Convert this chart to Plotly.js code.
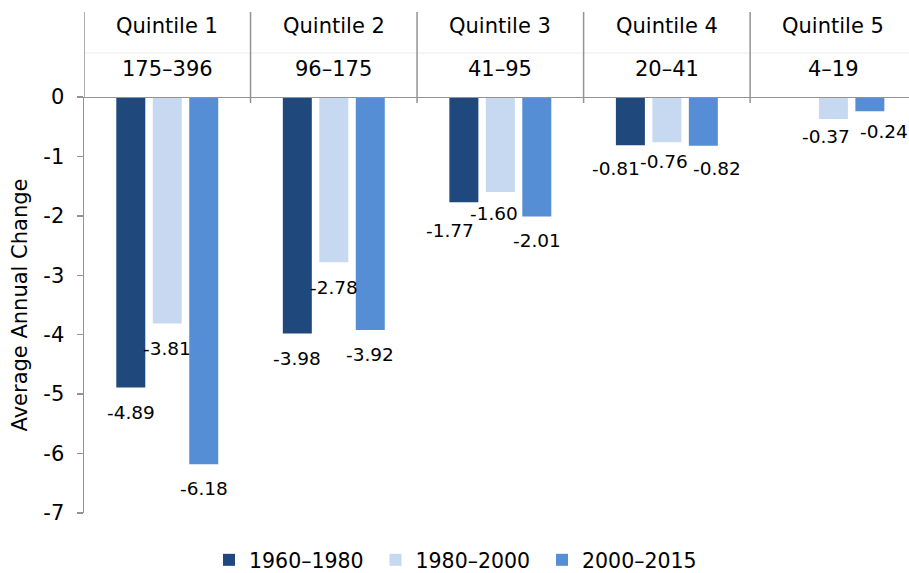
<!DOCTYPE html>
<html>
<head>
<meta charset="utf-8">
<script src="https://cdn.plot.ly/plotly-3.0.1.min.js"></script>
<style>html,body{margin:0;padding:0;background:#fff;}#chart{width:909px;height:573px;}</style>
</head>
<body>
<div id="chart"></div>
<script>
// ---- data ----
const categories = ["Quintile 1", "Quintile 2", "Quintile 3", "Quintile 4", "Quintile 5"];
const ranges = ["175–396", "96–175", "41–95", "20–41", "4–19"];
const seriesNames = ["1960–1980", "1980–2000", "2000–2015"];
const v1960_1980 = [-4.89, -3.98, -1.77, -0.81, null];
const v1980_2000 = [-3.81, -2.78, -1.60, -0.76, -0.37];
const v2000_2015 = [-6.18, -3.92, -2.01, -0.82, -0.24];
const yTicks = [0, -1, -2, -3, -4, -5, -6, -7];

// ---- styling ----
const colors = ["#1f497d", "#c6d9f1", "#558ed5"];
const FONT = "DejaVu Sans, Verdana, sans-serif";
const FS = 21, FS_LABEL = 18.5, FS_LEGEND = 20.5;
const W = 909, H = 573, ML = 84, MR = 0, MT = 97, MB = 60;
const xMin = -0.5, xMax = 4.454;
const bargap = 0.343, bargroupgap = 0.205;
// label nudges in px [dx, dy below bar end] per series per category
const labelNudge = [
  [[0, 25], [0, 25], [-14, 28], [-14, 23], [0, 0]],
  [[0, 25], [0, 25], [-6, 21], [-2.5, 19.5], [-7.5, 17.7]],
  [[0, 24], [0, 25], [0, 24], [14, 22.6], [14, 20.4]]
];

const seriesValues = [v1960_1980, v1980_2000, v2000_2015];
const plotW = W - ML - MR, plotH = H - MT - MB;
const pxPerCat = plotW / (xMax - xMin);
const slotPx = (1 - bargap) / seriesValues.length * pxPerCat;
const paperY = py => (H - MB - py) / plotH;

const traces = seriesValues.map((vals, s) => ({
  type: "bar",
  name: seriesNames[s],
  x: categories,
  y: vals,
  marker: {color: colors[s], line: {width: 0}},
  hoverinfo: "none"
}));

const annotations = [];
seriesValues.forEach((vals, s) => {
  vals.forEach((v, i) => {
    if (v === null || v === undefined) return;
    const n = labelNudge[s][i];
    annotations.push({
      x: categories[i], y: v, xref: "x", yref: "y",
      text: v.toFixed(2), showarrow: false,
      xanchor: "center", yanchor: "middle",
      xshift: (s - 1) * slotPx + n[0], yshift: -n[1],
      font: {family: FONT, size: FS_LABEL, color: "#000"}
    });
  });
});
categories.forEach((c, i) => {
  annotations.push({x: categories[i], y: paperY(26), xref: "x", yref: "paper", text: c, showarrow: false,
    xanchor: "center", yanchor: "middle", font: {family: FONT, size: FS, color: "#000"}});
  annotations.push({x: categories[i], y: paperY(69), xref: "x", yref: "paper", text: ranges[i], showarrow: false,
    xanchor: "center", yanchor: "middle", font: {family: FONT, size: FS, color: "#000"}});
});

const GRAY = "#939393";
const shapes = [];
// faint header separator
shapes.push({type: "line", xref: "paper", yref: "paper", x0: 0, x1: 1, y0: paperY(53), y1: paperY(53),
  line: {color: "#ebebeb", width: 1}});
// header dividers
for (let i = 0; i < categories.length; i++) {
  shapes.push({type: "line", xref: "x", yref: "paper", x0: i - 0.5, x1: i - 0.5,
    y0: i === 0 ? 1 : paperY(103), y1: paperY(12), line: {color: GRAY, width: 1.5}});
}
// zero / category axis line
shapes.push({type: "line", xref: "paper", yref: "y", x0: 0, x1: 1, y0: 0, y1: 0, line: {color: GRAY, width: 1.8}});

const layout = {
  width: W, height: H,
  margin: {l: ML, r: MR, t: MT, b: MB, pad: 0, autoexpand: false},
  paper_bgcolor: "#fff", plot_bgcolor: "#fff",
  font: {family: FONT, size: FS, color: "#000"},
  barmode: "group", bargap: bargap, bargroupgap: bargroupgap,
  showlegend: true,
  legend: {orientation: "h", x: (209 - ML) / plotW, xanchor: "left", y: paperY(560), yanchor: "middle",
    font: {family: FONT, size: FS_LEGEND, color: "#000"}, traceorder: "normal", itemwidth: 30,
    entrywidth: 121.5, entrywidthmode: "pixels", bgcolor: "rgba(0,0,0,0)"},
  xaxis: {type: "category", range: [xMin, xMax], showticklabels: false, showgrid: false, zeroline: false,
    showline: false, ticks: "", fixedrange: true},
  yaxis: {range: [-7, 0], tickvals: yTicks, ticktext: yTicks.map(String), showgrid: false, zeroline: false,
    showline: true, linecolor: GRAY, linewidth: 1.5, ticks: "outside", ticklen: 6, tickcolor: GRAY, tickwidth: 1.5,
    ticklabelstandoff: 8, tickfont: {family: FONT, size: FS, color: "#000"},
    title: {text: "Average Annual Change", font: {family: FONT, size: FS, color: "#000"}, standoff: 10},
    fixedrange: true},
  annotations: annotations,
  shapes: shapes
};

Plotly.newPlot("chart", traces, layout, {displayModeBar: false, staticPlot: true});
</script>
</body>
</html>
